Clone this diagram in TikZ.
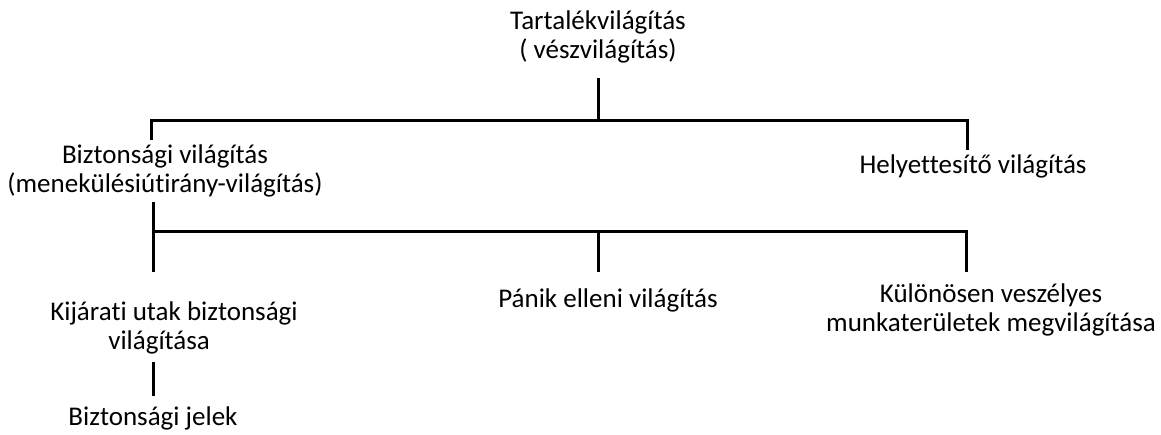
\documentclass[tikz,border=0pt]{standalone}
\usepackage{fontspec}
\setmainfont[Ligatures=NoCommon]{Carlito}
\begin{document}
\begin{tikzpicture}[x=1pt,y=-1pt,
  lbl/.style={inner sep=0pt, align=center, font=\fontsize{27}{29}\selectfont},
  conn/.style={line width=3pt}]
\useasboundingbox (0,0) rectangle (1161,434);
\node[lbl] (top) at (598,37) {Tartalékvilágítás\\ ( vészvilágítás)};
\node[lbl] (bizt) at (165,171) {Biztonsági világítás\\(menekülésiútirány-világítás)};
\node[lbl] (hely) at (973,166) {Helyettesítő világítás};
\node[lbl, align=left] (kij) at (174,328) {Kijárati utak biztonsági\\\hspace*{58pt}világítása};
\node[lbl] (pan) at (608,300) {Pánik elleni világítás};
\node[lbl] (kul) at (991,310) {Különösen veszélyes\\munkaterületek megvilágítása};
\node[lbl] (jel) at (153,418) {Biztonsági jelek};
\coordinate (t1) at (598,78);
\coordinate (j1) at (598,120);
\coordinate (bl) at (151,120);
\coordinate (br) at (967,120);
\coordinate (bl2) at (151,140);
\coordinate (br2) at (967,150);
\coordinate (s1) at (153,202);
\coordinate (sj) at (153,231);
\coordinate (sr) at (966,231);
\coordinate (sl2) at (153,272);
\coordinate (sm) at (598,231);
\coordinate (sm2) at (598,272);
\coordinate (sr2) at (966,272);
\coordinate (k1) at (153,362);
\coordinate (k2) at (153,396);
\draw[conn] (t1) -- (j1);
\draw[conn] (bl2) -- (bl) -- (br) -- (br2);
\draw[conn] (s1) -- (sl2);
\draw[conn] (sj) -- (sr) -- (sr2);
\draw[conn] (sm) -- (sm2);
\draw[conn] (k1) -- (k2);
\end{tikzpicture}
\end{document}
